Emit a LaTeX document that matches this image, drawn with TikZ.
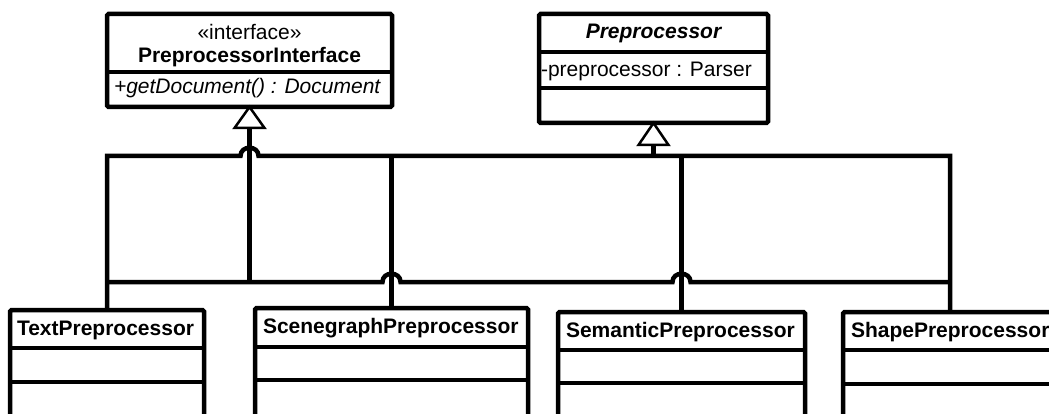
\documentclass[tikz,border=0pt]{standalone}
\usepackage{fontspec}
\setmainfont{Liberation Sans}
\begin{document}
\begin{tikzpicture}[x=1pt,y=-1pt,
  every node/.style={inner sep=0pt, outer sep=0pt},
  classbox/.style={draw, line width=4.5pt, rounded corners=1.5pt, anchor=north west, fill=white},
  sep/.style={line width=4pt},
  conn/.style={line width=4.5pt, line join=miter},
  tri/.style={draw, fill=white, line width=2.5pt, line join=miter},
  lbl/.style={font=\fontsize{21pt}{25pt}\selectfont}]
\useasboundingbox (0,0) rectangle (1049,414);
\clip (0,0) rectangle (1049,414);
\fill[white] (0,0) rectangle (1049,414);

% top classes
\node[classbox, minimum width=285pt, minimum height=93pt] (iface) at (107,14) {};
\draw[sep] ([yshift=-58pt]iface.north west) -- ([yshift=-58pt]iface.north east);
\node[lbl] (ifst) at (249.5,32) {«interface»};
\node[lbl, font=\fontsize{21pt}{25pt}\selectfont\bfseries] (ifname) at (249.5,57) {PreprocessorInterface};
\node[lbl, anchor=west, font=\fontsize{21pt}{25pt}\selectfont\itshape] (ifop) at (114,88) {+getDocument() : Document};

\node[classbox, minimum width=229pt, minimum height=109pt] (pre) at (539,14) {};
\draw[sep] ([yshift=-38pt]pre.north west) -- ([yshift=-38pt]pre.north east);
\draw[sep] ([yshift=-74pt]pre.north west) -- ([yshift=-74pt]pre.north east);
\node[lbl, font=\fontsize{21pt}{25pt}\selectfont\bfseries\itshape] (prename) at (653.5,33) {Preprocessor};
\node[lbl, anchor=west] (preattr) at (541,71) {-preprocessor : Parser};

% bottom classes
\node[classbox, minimum width=194pt, minimum height=130pt] (text) at (10,310) {};
\draw[sep] ([yshift=-38pt]text.north west) -- ([yshift=-38pt]text.north east);
\draw[sep] ([yshift=-72pt]text.north west) -- ([yshift=-72pt]text.north east);
\node[lbl, anchor=west, font=\fontsize{21pt}{25pt}\selectfont\bfseries] (textname) at (17,330) {TextPreprocessor};

\node[classbox, minimum width=273pt, minimum height=130pt] (scene) at (255,308) {};
\draw[sep] ([yshift=-39pt]scene.north west) -- ([yshift=-39pt]scene.north east);
\draw[sep] ([yshift=-72pt]scene.north west) -- ([yshift=-72pt]scene.north east);
\node[lbl, anchor=west, font=\fontsize{21pt}{25pt}\selectfont\bfseries] (scenename) at (263,328) {ScenegraphPreprocessor};

\node[classbox, minimum width=247pt, minimum height=130pt] (sem) at (558,312) {};
\draw[sep] ([yshift=-38pt]sem.north west) -- ([yshift=-38pt]sem.north east);
\draw[sep] ([yshift=-71pt]sem.north west) -- ([yshift=-71pt]sem.north east);
\node[lbl, anchor=west, font=\fontsize{21pt}{25pt}\selectfont\bfseries] (semname) at (566,332) {SemanticPreprocessor};

\node[classbox, minimum width=214pt, minimum height=130pt] (shape) at (843,312) {};
\draw[sep] ([yshift=-38pt]shape.north west) -- ([yshift=-38pt]shape.north east);
\draw[sep] ([yshift=-72pt]shape.north west) -- ([yshift=-72pt]shape.north east);
\node[lbl, anchor=west, font=\fontsize{21pt}{25pt}\selectfont\bfseries] (shapename) at (851,332) {ShapePreprocessor};

% bus coordinates
\coordinate (pbus) at (653.5,156);
\coordinate (ibus) at (249.5,282);

% Preprocessor generalization bus
\draw[conn] (text.north) -- (text.north |- pbus)
  -- ([xshift=-9pt]iface.south |- pbus) .. controls +(0,-11) and +(0,-11) .. ([xshift=9pt]iface.south |- pbus)
  -- (shape.north |- pbus) -- (shape.north);
\draw[conn] (scene.north) -- (scene.north |- pbus);
\draw[conn] (sem.north) -- (sem.north |- pbus);
\draw[conn] (pbus) -- ([yshift=-22pt]pre.south);
\draw[tri] (pre.south) -- ++(15,22) -- ++(-30,0) -- cycle;

% Interface realization bus
\draw[conn] ([yshift=-21pt]iface.south) -- (ibus);
\draw[conn] (text.north |- ibus)
  -- ([xshift=-9pt]scene.north |- ibus) .. controls +(0,-11) and +(0,-11) .. ([xshift=9pt]scene.north |- ibus)
  -- ([xshift=-9pt]sem.north |- ibus) .. controls +(0,-11) and +(0,-11) .. ([xshift=9pt]sem.north |- ibus)
  -- (shape.north |- ibus);
\draw[tri] (iface.south) -- ++(15,21) -- ++(-30,0) -- cycle;
\end{tikzpicture}
\end{document}
